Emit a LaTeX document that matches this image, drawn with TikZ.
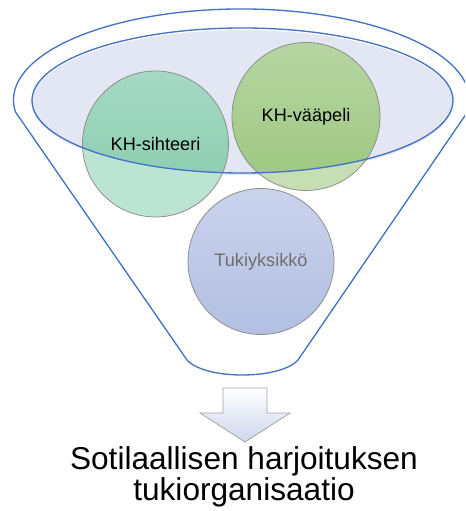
\documentclass[tikz,border=0pt]{standalone}
\usepackage{fontspec}
\setmainfont{Liberation Sans}
\usepackage{tikz}
\usetikzlibrary{positioning, calc}

\definecolor{funnelblue}{HTML}{4472C4}
\definecolor{ellfill}{HTML}{E3E7F3}
\definecolor{circline}{HTML}{8E8E8E}
\definecolor{sihout}{HTML}{BCE4D3}
\definecolor{sihtop}{HTML}{A5DAC5}
\definecolor{sihbot}{HTML}{86C9AC}
\definecolor{vaaout}{HTML}{C5DEB3}
\definecolor{vaatop}{HTML}{B7D5A2}
\definecolor{vaabot}{HTML}{9CC77F}
\definecolor{tuktop}{HTML}{CAD3EC}
\definecolor{tukbot}{HTML}{B3BFE2}
\definecolor{tuktext}{HTML}{6E6E6E}
\definecolor{arrowbot}{HTML}{CDD6EC}

\begin{document}
\begin{tikzpicture}[
		x=0.75pt, y=0.75pt,
		funnel/.style={draw=funnelblue, line width=1pt},
		circ/.style={circle, draw=circline, line width=0.6pt, minimum size=109.5pt, inner sep=0pt, font=\fontsize{13.6}{16}\selectfont},
		caption/.style={anchor=base, inner sep=0pt, align=center, font=\fontsize{23.7}{20.6}\selectfont}]
		\useasboundingbox (0,0) rectangle (465,511);
		\clip (0,0) rectangle (465,511);

		\coordinate (e) at (242.5,410.5);
		\coordinate (c1) at (155.5,367);
		\coordinate (c2) at (306,394.5);
		\coordinate (c3) at (261,249.5);

		% funnel outline
		\draw[funnel] (15.5,399) arc[start angle=187.6, end angle=-7.6, x radius=228, y radius=91]
			-- (298,151) .. controls (280,131) and (205,131) .. (187,151) -- cycle;

		% inner ellipse fill
		\fill[ellfill] ($(e)+(0,-2)$) ellipse[x radius=210.5, y radius=72.5];

		% circles, lighter outside the ellipse
		\fill[sihout] (c1) circle[radius=73];
		\fill[vaaout] (c2) circle[radius=74];
		\shade[top color=tuktop, bottom color=tukbot] (c3) circle[radius=73];
		\begin{scope}
			\clip (e) ellipse[x radius=210.5, y radius=72.5];
			\shade[top color=sihtop, bottom color=sihbot] (c1) circle[radius=73];
			\shade[top color=vaatop, bottom color=vaabot] (c2) circle[radius=74];
		\end{scope}

		\node[circ] (sihteeri) at (c1) {KH-sihteeri};
		\node[circ, minimum size=111pt] (vaapeli) at (c2) {KH-vääpeli};
		\node[circ, text=tuktext] (tuki) at (c3) {Tukiyksikkö};

		\draw[funnel] (e) ellipse[x radius=210.5, y radius=72.5];

		% down arrow
		\draw[circline!80, line width=0.6pt, top color=white, bottom color=arrowbot]
			(223,123) -- (267,123) -- (267,98) -- (290,98) -- (245,69)
			-- (200,98) -- (223,98) -- cycle;

		\node[caption] (cap) at (244,10.5) {Sotilaallisen harjoituksen\\tukiorganisaatio};
\end{tikzpicture}
\end{document}
